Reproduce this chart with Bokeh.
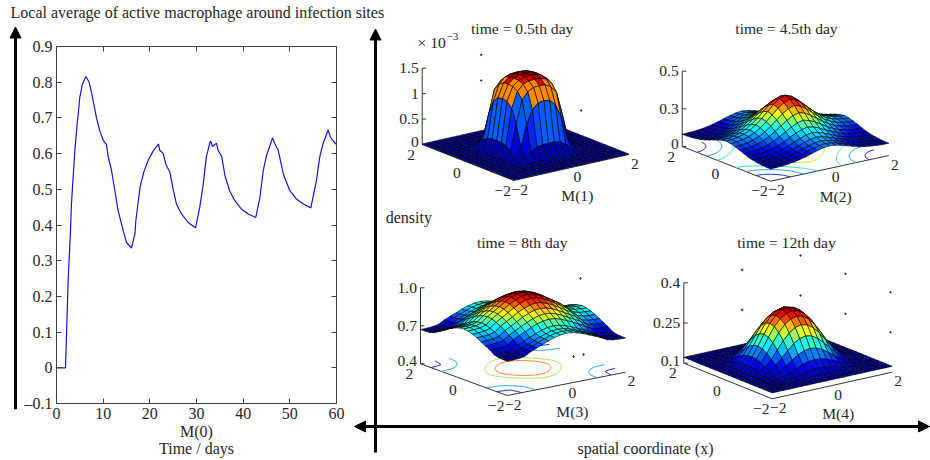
import numpy as np
from bokeh.core.properties import value
from bokeh.embed import file_html
from bokeh.layouts import row
from bokeh.models import Arrow, ColumnDataSource, FixedTicker, LinearAxis, NormalHead, Range1d
from bokeh.plotting import figure
from bokeh.plotting.contour import contour_data
from bokeh.resources import INLINE

FONT = "Liberation Serif"
INK = "#262626"

# ---- left chart: local average over time
time_days = [0, 1.93, 2.5, 3, 3.2, 3.93, 4.43, 5, 5.57, 6.3, 7, 7.7, 8.57, 9.3, 10, 10.7, 11.1, 11.8, 12.5,
             13.2, 14.3, 15, 16.07, 16.8, 17, 17.9, 18.7, 19.6, 20.7, 21.86, 22.1, 22.9, 23.4, 24.3, 24.9,
             25.7, 26.8, 28.2, 29.8, 30.7, 31.4, 32.1, 32.9, 33.07, 33.4, 34.3, 34.6, 35.4, 36.1, 37.1,
             38.2, 39.6, 41.1, 42.7, 43.6, 44.3, 45, 46.3, 46.8, 47.5, 48.6, 50, 51.4, 52.9, 54.5, 55.7,
             56.4, 57.1, 58.2, 58.7, 59.3, 60]
local_avg = [0, 0, .245, .385, .459, .608, .683, .758, .795, .816, .80, .758, .70, .663, .638, .625, .59, .552,
             .496, .44, .384, .351, .335, .375, .412, .506, .548, .58, .607, .627, .61, .599, .571, .548, .506,
             .459, .431, .407, .392, .45, .51, .59, .632, .635, .62, .629, .61, .592, .538, .496,
             .468, .445, .431, .421, .478, .552, .594, .644, .627, .61, .543, .496, .473, .459, .448, .524,
             .59, .627, .666, .646, .636, .625]
x_ticks = [0, 10, 20, 30, 40, 50, 60]
y_ticks = [-0.1, 0, .1, .2, .3, .4, .5, .6, .7, .8, .9]
y_tick_labels = ["–0.1", "0", "0.1", "0.2", "0.3", "0.4", "0.5", "0.6", "0.7", "0.8", "0.9"]

# ---- right panels: density along the centre line (edge to centre, mirrored)
titles = ["time = 0.5th day", "time = 4.5th day", "time = 8th day", "time = 12th day"]
axis_names = ["M(1)", "M(2)", "M(3)", "M(4)"]
profile_1 = [.01, .01, .01, .01, .03, .30, 1.10, 1.36, 1.45, 1.50, 1.50]
profile_2 = [.150, .153, .160, .172, .190, .216, .250, .288, .325, .355, .370]
profile_3 = [.80, .802, .806, .82, .86, .89, .92, .95, .975, .993, 1.0]
profile_4 = [.122, .124, .13, .145, .17, .205, .245, .28, .305, .32, .325]
corner_base = [0.0, 0.05, 0.43, 0.12]
round_power = [3, None, None, 2]        # panels whose level curves are round rather than pillow-shaped
band_from_1 = [.30, .93, 1.36, 1.45]    # panel 1 shows flat colour bands above the foot of the mound
band_value_1 = [.30, 1.10, 1.36, 1.45]
sliver_1 = (.93, 1.10, .93)             # the one yellow sliver on panel 1's front crease
z_ticks = [[0, .5, 1, 1.5], [0, .25, .5], [.4, .7, 1.0], [.1, .25, .4]]
z_tick_labels = [["0", "0.5", "1", "1.5"], ["0", "0.3", "0.5"], ["0.4", "0.7", "1.0"], ["0.1", "0.25", "0.4"]]
contour_levels = [[], [.09, .108, .135, .19, .25], [.678, .725, .87, .92], []]
contour_colors = [[], ["#2030d0", "#30a0f0", "#40e0c0", "#e8e040", "#ff8040"],
                  ["#2030d0", "#30a8f0", "#a8e860", "#ff8040"], []]
xy_ticks = [-2, 0, 2]
xy_tick_labels = ["−2", "0", "2"]

# where each panel's box sits on the page (reference pixels)
corner_left = [(421.7, 144), (681.7, 146), (420, 363.3), (683.3, 362.7)]
corner_front = [(513.3, 180), (770, 180.7), (506.7, 395), (771.7, 398.3)]
corner_right = [(628.3, 154), (888.3, 155), (625, 371.7), (891.7, 371.7)]
z_height = [76.3, 75.3, 76, 80.4]
title_pos = [(521.7, 28.3), (786, 28.3), (521.7, 242.3), (786, 242.3)]

# stray specks in the reference
speck_x = [480.7, 480.7, 580.7, 580, 573, 583, 741.7, 800, 845, 890, 741.7, 800, 845, 890]
speck_y = [54.3, 80, 110, 278, 356, 354, 269.3, 255, 273.3, 291.7, 309.3, 295, 313.3, 331.7]


def jet(t):
    t = min(max(t, 0.0), 1.0)
    r = np.clip(min(4 * t - 1.5, -4 * t + 4.5), 0, 1)
    g = np.clip(min(4 * t - 0.5, -4 * t + 3.5), 0, 1)
    b = np.clip(min(4 * t + 0.5, -4 * t + 2.5), 0, 1)
    return "#%02x%02x%02x" % (int(r * 255), int(g * 255), int(b * 255))


# ---- the line chart, with real axes, first on the page
CW, CH = 345, 434
FL, FT, FW, FH = 56, 46, 280, 357
chart = figure(width=CW, height=CH, output_backend="svg", toolbar_location=None, frame_align=False,
               x_range=Range1d(0, 60), y_range=Range1d(-0.1, 0.9),
               min_border_left=FL, min_border_right=CW - FL - FW, min_border_top=FT, min_border_bottom=CH - FT - FH)
chart.grid.visible = False
chart.outline_line_color = None
chart.line(time_days, local_avg, line_color="#1414d2", line_width=1.2)


def style_axis(ax, ticks, labels, show):
    ax.ticker = FixedTicker(ticks=ticks)
    ax.major_tick_in, ax.major_tick_out = 5, 0
    ax.minor_tick_line_color = None
    ax.axis_line_color = "#404040"
    ax.major_tick_line_color = "#404040"
    ax.major_label_text_font = FONT
    ax.major_label_text_font_size = "16px"
    ax.major_label_text_color = INK if show else None
    ax.major_label_standoff = 4
    ax.major_label_overrides = dict(zip(ticks, labels))


style_axis(chart.xaxis[0], x_ticks, [str(v) for v in x_ticks], True)
style_axis(chart.yaxis[0], y_ticks, y_tick_labels, True)
top_ax, right_ax = LinearAxis(), LinearAxis()
chart.add_layout(top_ax, "above")
chart.add_layout(right_ax, "right")
style_axis(top_ax, x_ticks, [""] * len(x_ticks), False)
style_axis(right_ax, y_ticks, [""] * len(y_ticks), False)

# ---- transparent page-sized sheet over it: panels, labels and arrows
sheet = figure(width=930, height=460, output_backend="svg", toolbar_location=None, frame_align=False,
               x_axis_type=None, y_axis_type=None, x_range=Range1d(0, 930), y_range=Range1d(460, 0),
               background_fill_color=None, border_fill_color=None, margin=(0, 0, 0, -CW),
               min_border=0, min_border_left=0, min_border_right=0, min_border_top=0, min_border_bottom=0)
sheet.grid.visible = False
sheet.outline_line_color = None

tx, ty, ts, ta, tz = [], [], [], [], []


def put(x, y, s, a="center", size="15.6px"):
    tx.append(x); ty.append(y); ts.append(s); ta.append(a); tz.append(size)


head = lambda: NormalHead(size=11, fill_color="black", line_color="black")
sheet.add_layout(Arrow(x_start=15, y_start=408.7, x_end=15, y_end=26.5, line_width=3, line_color="black", end=head()))
sheet.add_layout(Arrow(x_start=375, y_start=452, x_end=375, y_end=28.5, line_width=3, line_color="black", end=head()))
sheet.add_layout(Arrow(x_start=354, y_start=426, x_end=929, y_end=426, line_width=3, line_color="black",
                       start=head(), end=head()))

profiles = [profile_1, profile_2, profile_3, profile_4]
grid = np.linspace(-2, 2, 21)
for k in range(4):
    half = profiles[k]
    p = np.array(half + half[-2::-1])
    base = corner_base[k]
    peak = max(half)
    if round_power[k]:
        m = round_power[k]
        gx, gy = np.meshgrid(grid, grid)
        r = (np.abs(gx) ** m + np.abs(gy) ** m) ** (1 / m)
        Z = np.interp(r, np.abs(grid[:11])[::-1], np.array(half)[::-1])
    else:
        Z = base + np.outer(p - base, p - base) / (peak - base)   # Z[j, i]: y index j, x index i
    zlo, zhi = z_ticks[k][0], z_ticks[k][-1]
    L, F, R = map(np.array, (corner_left[k], corner_front[k], corner_right[k]))

    def proj(x, y, z):
        x, y, z = np.asarray(x, float), np.asarray(y, float), np.asarray(z, float)
        sx = F[0] + (x + 2) / 4 * (R[0] - F[0]) + (y + 2) / 4 * (L[0] - F[0])
        sy = F[1] + (x + 2) / 4 * (R[1] - F[1]) + (y + 2) / 4 * (L[1] - F[1]) - (z - zlo) / (zhi - zlo) * z_height[k]
        return sx, sy

    # box edges
    ex, ey = proj([-2, -2, 2], [2, -2, -2], [zlo] * 3)
    sheet.line(ex, ey, line_color="#333333", line_width=1)
    ex, ey = proj([-2, -2], [2, 2], [zlo, zhi])
    sheet.line(ex, ey, line_color="#333333", line_width=1)
    for tv, tl in zip(z_ticks[k], z_tick_labels[k]):
        ex, ey = proj([-2], [2], [tv])
        sheet.line([ex[0], ex[0] + 4], [ey[0], ey[0]], line_color="#333333", line_width=1)
        put(ex[0] - 3.5, ey[0] - (2.5 if tv == zlo else 0), tl, "right")
    for tv, tl in zip(xy_ticks, xy_tick_labels):
        ax_, ay_ = proj([-2], [tv], [zlo])
        put(ax_[0] - 11, ay_[0] + 10, tl)
        bx_, by_ = proj([tv], [-2], [zlo])
        put(bx_[0] + 6, by_[0] + 9, tl)
    mx, my = proj([0], [-2], [zlo])
    put(mx[0] + 6, my[0] + 28, axis_names[k])
    put(title_pos[k][0], title_pos[k][1], titles[k])

    # contours on the floor, beneath the surface
    if contour_levels[k]:
        cd = contour_data(grid, grid, Z, contour_levels[k], want_fill=False, want_line=True)
        for xs_, ys_, col in zip(cd.line_data.xs, cd.line_data.ys, contour_colors[k]):
            sx, sy = proj(xs_, ys_, np.full(len(xs_), zlo))
            sheet.line(sx, sy, line_color=col, line_width=1)

    # surface cells, far to near, coloured from their first vertex
    cxs, cys, cols = [], [], []
    zmin, zmax = Z.min(), Z.max()
    n = len(grid) - 1
    cells = sorted(((i, j) for i in range(n) for j in range(n)), key=lambda c: -(c[0] + c[1]))
    for i, j in cells:
        qx = [grid[i], grid[i + 1], grid[i + 1], grid[i]]
        qy = [grid[j], grid[j], grid[j + 1], grid[j + 1]]
        qz = [Z[j, i], Z[j, i + 1], Z[j + 1, i + 1], Z[j + 1, i]]
        sx, sy = proj(qx, qy, qz)
        cxs.append(sx.tolist()); cys.append(sy.tolist())
        cz = Z[j, i]
        if k == 0 and cz >= band_from_1[0]:
            if i == j and sliver_1[0] <= cz < sliver_1[1]:
                cz = sliver_1[2]
            else:
                cz = [v for f, v in zip(band_from_1, band_value_1) if f <= cz][-1]
        cols.append(jet(0.03 + 0.97 * (cz - zmin) / (zmax - zmin)))
    sheet.patches(cxs, cys, fill_color=cols, line_color="black", line_width=0.6)

put(10, 12, "Local average of active macrophage around infection sites", "left", "16px")
put(196, 431, "M(0)", "center", "16px")
put(196, 448, "Time / days", "center", "16px")
put(408.3, 216.7, "density", "center", "16px")
put(645, 448, "spatial coordinate (x)", "center", "16px")

sheet.text(x="x", y="y", text="t", text_align="a", text_baseline="middle", text_font_size="z",
           text_font=value(FONT), text_color=INK,
           source=ColumnDataSource(dict(x=tx, y=ty, t=ts, a=ta, z=tz)))
# exponent on panel 1
sheet.text(x=[417], y=[41.5], text=["× 10"], text_align="left", text_baseline="middle",
           text_font=value(FONT), text_font_size="15.6px", text_color=INK)
sheet.text(x=[446], y=[36], text=["−3"], text_align="left", text_baseline="middle",
           text_font=value(FONT), text_font_size="11px", text_color=INK)
sheet.scatter(speck_x, speck_y, size=1.5, color="#333333")

page = row(chart, sheet, spacing=0)
open("out.html", "w").write(file_html(page, INLINE))
